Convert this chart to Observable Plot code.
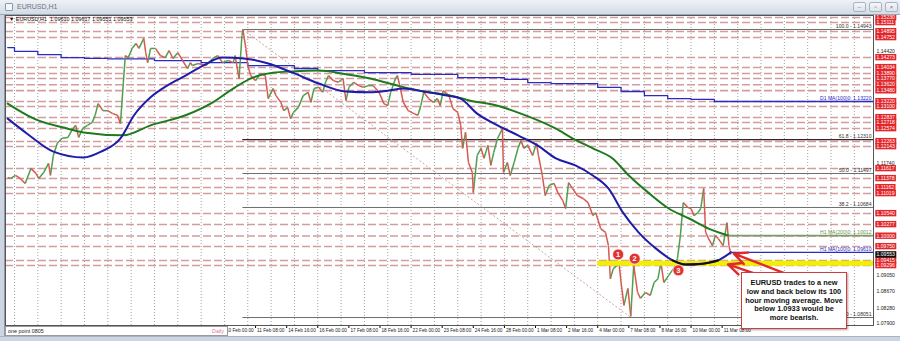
<!DOCTYPE html>
<html><head><meta charset="utf-8">
<script src="https://cdn.jsdelivr.net/npm/d3@7"></script>
<script src="https://cdn.jsdelivr.net/npm/@observablehq/plot@0.6"></script>
<style>
html,body{margin:0;padding:0;background:#d3dbe6;}
#wrap{position:relative;width:900px;height:341px;overflow:hidden;font-family:"Liberation Sans",Arial,sans-serif;}
#wrap svg{position:absolute;left:0;top:0;}
.ov{position:absolute;z-index:5;box-sizing:border-box;}
#titlebar{left:0;top:0;width:900px;height:15px;background:linear-gradient(#eef2f7,#d3dbe6);border-bottom:1px solid #9aa8ba;}
#titlebar .t{position:absolute;left:17px;top:3px;font-size:7px;color:#6a7482;}
#titlebar .ic{position:absolute;left:5px;top:3px;width:8px;height:8px;border:1px solid #8a98ac;border-radius:1px;background:#f4f6f9;box-sizing:border-box;}
.btn{position:absolute;top:2px;width:13px;height:10px;border:1px solid #a9b4c3;border-radius:2px;background:linear-gradient(#f4f6f9,#dde3eb);box-sizing:border-box;font-size:6px;color:#6d7786;text-align:center;line-height:8px;}
#lb{left:0;top:15px;width:5px;height:326px;background:#ccd5e1;border-right:1px solid #8d9aab;}
#bb{left:0;top:336px;width:900px;height:5px;background:#ccd5e1;border-top:1px solid #a9b4c3;}
#hdr{left:9px;top:16px;font-size:5.4px;color:#111;white-space:pre;}
#pt{left:5px;top:326px;width:223px;height:10px;background:#fff;border:1px solid #9a9a9a;font-size:5.4px;line-height:8px;color:#222;}
#pt .a{position:absolute;left:2px;top:0;}
#pt .b{position:absolute;right:3px;top:0;color:#e07a9a;}
#note{left:741px;top:272px;width:106px;height:57px;background:#fff;border:1.5px solid #d23c3c;box-shadow:1px 1px 2px rgba(0,0,0,.35);font-weight:bold;font-size:7.4px;line-height:8.8px;text-align:center;padding-top:6px;color:#111;}
</style></head>
<body>
<div id="wrap">
  <div class="ov" id="titlebar"><div class="ic"></div><div class="t">EURUSD,H1</div>
    <div class="btn" style="left:853px">–</div><div class="btn" style="left:869px">▫</div><div class="btn" style="left:885px">×</div></div>
  <div class="ov" id="lb"></div>
  <div class="ov" id="bb"></div>
  <div class="ov" id="hdr">▼ EURUSD,H1  1.09610 1.09617 1.09551 1.09553</div>
  <div class="ov" id="pt"><span class="a">one point 0805</span><span class="b">Daily</span></div>
  <div class="ov" id="note">EURUSD trades to a new<br>low and back below its 100<br>hour moving average. Move<br>below 1.0933 would be<br>more bearish.</div>
</div>
<script>
// ---- time axis (bar index = hours since 28 Jan 00:00, trading hours only) ----
const timeTickBars = [216,248,280,312,344,376,408,440,472,504,536,568,600,632,664,696,728];
const timeTickLabels = ["10 Feb 00:00","11 Feb 08:00","14 Feb 16:00","16 Feb 00:00","17 Feb 08:00","18 Feb 16:00","22 Feb 00:00","23 Feb 08:00","24 Feb 16:00","28 Feb 00:00","1 Mar 08:00","2 Mar 16:00","4 Mar 00:00","7 Mar 08:00","8 Mar 16:00","10 Mar 00:00","11 Mar 08:00"];

// ---- EURUSD H1 price path ----
const priceBar = [
 -7,-4,1,6,11,17,22,25,30,35,
 37,40,44,49,55,60,63,66,70,75,
 80,83,86,91,96,101,106,109,112,114,
 117,121,125,128,133,135,137,140,145,150,
 155,159,163,168,173,178,181,183,189,197,
 204,209,214,220,225,227,231,234,235,238,
 240,243,248,253,258,261,266,269,274,277,
 281,284,287,292,297,302,305,308,313,317,
 320,323,328,333,338,341,344,349,354,359,
 364,369,375,380,384,387,392,394,397,400,
 405,411,415,418,421,426,431,435,438,441,
 447,451,456,459,461,464,467,471,472,476,
 480,483,487,490,493,497,502,503,507,510,
 514,518,521,524,528,533,537,539,543,546,
 550,555,559,564,567,570,574,579,585,590,
 595,598,603,608,611,613,616,622,624,627,
 631,634,637,641,644,649,654,658,662,665,
 668,673,678,682,685,688,693,696,699,703,
 706,709,711,714,718,721,724,729,733,735,737];
const priceVal = [
 1.1140,1.1138,1.1145,1.1138,1.1126,1.1162,1.1150,1.1138,1.1152,1.1174,
 1.1145,1.1193,1.1222,1.1234,1.1236,1.1257,1.1265,1.1236,1.1257,1.1265,
 1.1272,1.1289,1.1317,1.1300,1.1300,1.1293,1.1289,1.1269,1.1368,1.1432,
 1.1427,1.1449,1.1461,1.1449,1.1473,1.1439,1.1415,1.1449,1.1449,1.1432,
 1.1427,1.1444,1.1425,1.1439,1.1420,1.1401,1.1415,1.1408,1.1413,1.1408,
 1.1425,1.1432,1.1415,1.1420,1.1415,1.1432,1.1377,1.1480,1.1494,1.1449,
 1.1408,1.1384,1.1372,1.1389,1.1384,1.1329,1.1353,1.1336,1.1320,1.1300,
 1.1308,1.1281,1.1296,1.1308,1.1336,1.1344,1.1320,1.1353,1.1356,1.1344,
 1.1368,1.1384,1.1372,1.1368,1.1377,1.1324,1.1356,1.1368,1.1360,1.1356,
 1.1360,1.1360,1.1344,1.1317,1.1312,1.1344,1.1377,1.1384,1.1353,1.1320,
 1.1300,1.1293,1.1289,1.1312,1.1344,1.1329,1.1320,1.1329,1.1312,1.1348,
 1.1336,1.1305,1.1296,1.1265,1.1210,1.1248,1.1176,1.1152,1.1104,1.1193,
 1.1210,1.1186,1.1217,1.1169,1.1200,1.1234,1.1257,1.1152,1.1176,1.1145,
 1.1176,1.1210,1.1229,1.1210,1.1217,1.1193,1.1222,1.1193,1.1145,1.1097,
 1.1121,1.1126,1.1104,1.1085,1.1066,1.1128,1.1114,1.1097,1.1090,1.1080,
 1.1049,1.1056,1.1018,1.1009,1.0977,1.0898,1.0922,1.0934,1.0889,1.0834,
 1.0875,1.0808,1.0930,1.0865,1.0851,1.0865,1.0858,1.0889,1.0898,1.0937,
 1.0889,1.0906,1.0922,1.0946,1.1001,1.1080,1.1068,1.1066,1.1049,1.1056,
 1.1066,1.1114,1.1009,1.0994,1.0977,1.1001,1.0994,1.0977,1.1032,1.0977,1.0956];

// ---- H1 MA(100) ----
const ma100Bar = [-7,13,40,71,89,109,123,140,157,176,194,214,236,261,286,313,341,366,384,400,421,446,459,476,497,518,538,557,577,595,611,626,642,660,677,690,708,724,737];
const ma100Val = [1.1281,1.1245,1.1202,1.1188,1.1202,1.1234,1.1289,1.1332,1.1360,1.1384,1.1408,1.1427,1.1425,1.1413,1.1391,1.1365,1.1346,1.1344,1.1348,1.1353,1.1346,1.1336,1.1329,1.1293,1.1265,1.1241,1.1217,1.1186,1.1169,1.1145,1.1114,1.1056,1.1009,1.0970,1.0942,1.0932,1.0934,1.0942,1.0961];
// ---- H1 MA(200) ----
const ma200Bar = [-7,20,55,71,112,140,176,204,227,245,266,286,313,341,366,394,421,449,469,497,521,557,574,595,615,632,652,673,694,714,735];
const ma200Val = [1.1317,1.1281,1.1257,1.1248,1.1241,1.1265,1.1289,1.1320,1.1356,1.1379,1.1391,1.1394,1.1396,1.1387,1.1377,1.1360,1.1346,1.1336,1.1324,1.1312,1.1293,1.1257,1.1234,1.1210,1.1186,1.1145,1.1104,1.1066,1.1042,1.1018,1.1001];
// ---- D1 MA(100), one value per trading day (day -1 .. 30) ----
const dailyMA = [1.1451,1.1442,1.1434,1.1427,1.1425,1.1424,1.1424,1.1420,1.1420,1.1415,1.1415,1.1408,1.1408,1.1401,1.1396,1.1396,1.1391,1.1391,1.1387,1.1387,1.1379,1.1379,1.1375,1.1367,1.1365,1.1365,1.1356,1.1346,1.1336,1.1329,1.1327,1.1322];

// ---- Fibonacci retracement (10 Feb high -> 7 Mar low) ----
const fibPct = ["100.0","61.8","50.0","38.2","0.0"];
const fibPrice = [1.14943,1.12310,1.11497,1.10684,1.08051];
const fibBars = [235,634];

// ---- horizontal levels drawn by the analyst ----
const levels = [1.15230,1.15111,1.14895,1.14752,1.14273,1.14034,1.13890,1.13770,1.13620,1.13480,1.13220,1.13100,1.12837,1.12718,1.12574,1.12263,1.12143,1.11617,1.11378,1.11162,1.11019,1.10540,1.10277,1.10000,1.09750,1.09415,1.09296];
const gridPrices = [1.07900,1.08280,1.08670,1.09050,1.09430,1.09820,1.10200,1.10580,1.10970,1.11350,1.11740,1.12120,1.12500,1.12890,1.13270,1.13650,1.14040,1.14420,1.14800,1.15190];
const currentPrice = [1.09553];
const yellowLevel = [1.0935];
const yellowStartBar = 600;

// ---- annotations ----
const circleNums = ["1","2","3"];
const circleBars = [621,638,683];
const circlePrices = [1.0956,1.0946,1.0918];
const arrowHeadBars = [740,734], arrowHeadPrices = [1.0958,1.0932];
const arrowTailBars = [801,793], arrowTailPrices = [1.0903,1.0885];
const maLabels = ["D1 MA(100)0: 1.13220","H1 MA(200)0: 1.10012","H1 MA(100)0: 1.09610"];
const maLabelPrices = [1.1322,1.1001,1.0961];
const maLabelColors = ["#2b2bc4","#6b8e4e","#2b2bc4"];

// ---- derived tables ----
const xStart = -9.26, xEnd = 883.7;
const segs = priceBar.slice(1).map((b, i) => ({x1: priceBar[i], y1: priceVal[i], x2: b, y2: priceVal[i + 1]}));
const up = segs.filter(d => d.y2 >= d.y1), down = segs.filter(d => d.y2 < d.y1);
const ma100 = ma100Bar.map((b, i) => ({b, v: ma100Val[i]}));
const ma200 = ma200Bar.map((b, i) => ({b, v: ma200Val[i]}));
const daily = dailyMA.map((v, i) => ({b: Math.max(-7, (i - 1) * 24), v}));
daily.push({b: xEnd, v: dailyMA[dailyMA.length - 1]});
const circles = circleNums.map((n, i) => ({n, b: circleBars[i], p: circlePrices[i]}));
const arrows = arrowHeadBars.map((b, i) => ({hb: b, hp: arrowHeadPrices[i], tb: arrowTailBars[i], tp: arrowTailPrices[i]}));
const dayBars = d3.range(0, xEnd, 24);
const boxed = levels.concat(currentPrice);
const freeGrid = gridPrices.filter(g => boxed.every(l => Math.abs(l - g) > 0.0011));
const f5 = d => d.toFixed(5);
const small = 5.1;
const RED_TXT = "#fffffe", BLK_TXT = "#fffffd";

const chart = Plot.plot({
  width: 900, height: 341,
  marginLeft: 5, marginRight: 27, marginTop: 15, marginBottom: 16,
  style: {background: "white", fontFamily: "Liberation Sans, Arial, sans-serif", overflow: "visible"},
  x: {domain: [xStart, xEnd], ticks: timeTickBars, tickFormat: () => "", tickSize: 3, label: null},
  y: {domain: [1.07860, 1.15278], axis: null},
  marks: [
    Plot.ruleX(dayBars, {stroke: "#8a8a8a", strokeDasharray: "1,2", strokeWidth: 0.8}),
    Plot.ruleY(levels, {stroke: "#d19d9d", strokeWidth: 1.6, strokeDasharray: "8,3"}),
    Plot.ruleY(fibPrice, {x1: fibBars[0], x2: xEnd, stroke: "#6e6e6e", strokeWidth: 1}),
    Plot.ruleY([fibPrice[1]], {x1: fibBars[0], x2: xEnd, stroke: "#3a2525", strokeWidth: 1.2}),
    Plot.link([0], {x1: fibBars[0], y1: fibPrice[0], x2: fibBars[1], y2: fibPrice[4], stroke: "#c9a3a3", strokeDasharray: "2,2", strokeWidth: 1}),
    Plot.line(daily, {x: "b", y: "v", curve: "step-after", stroke: "#2b2bc4", strokeWidth: 1.3}),
    Plot.link(up, {x1: "x1", y1: "y1", x2: "x2", y2: "y2", stroke: "#4f9f4f", strokeWidth: 1.5}),
    Plot.link(down, {x1: "x1", y1: "y1", x2: "x2", y2: "y2", stroke: "#d65a52", strokeWidth: 1.5}),
    Plot.ruleY(yellowLevel, {x1: yellowStartBar, x2: xEnd, stroke: "#f3ef00", strokeWidth: 5}),
    Plot.line(ma200, {x: "b", y: "v", curve: "monotone-x", stroke: "#1e7a1e", strokeWidth: 2}),
    Plot.ruleY([ma200Val[ma200Val.length - 1]], {x1: ma200Bar[ma200Bar.length - 1], x2: xEnd, stroke: "#7f9c6a", strokeWidth: 1.6}),
    Plot.line(ma100, {x: "b", y: "v", curve: "monotone-x", stroke: "#1d1daa", strokeWidth: 2}),
    Plot.line(ma100.filter(d => d.b >= 677 && d.b <= 724), {x: "b", y: "v", curve: "monotone-x", stroke: "#111", strokeWidth: 2}),
    Plot.ruleY([ma100Val[ma100Val.length - 1]], {x1: ma100Bar[ma100Bar.length - 1], x2: xEnd, stroke: "#2b2bc4", strokeWidth: 1.3}),
    Plot.text(fibPrice, {y: d => d, text: (d, i) => `${fibPct[i]} - ${f5(d)}`, frameAnchor: "right", textAnchor: "end", dx: -2, dy: -3, fontSize: small, fill: "#333"}),
    Plot.text(maLabelPrices, {y: d => d, text: (d, i) => maLabels[i], fill: (d, i) => maLabelColors[i], frameAnchor: "right", textAnchor: "end", dx: -2, dy: -3, fontSize: small}),
    Plot.arrow(arrows, {x1: "tb", y1: "tp", x2: "hb", y2: "hp", stroke: "#e02a2a", strokeWidth: 2.4, headLength: 9, headAngle: 50}),
    Plot.dot(circles, {x: "b", y: "p", r: 5.5, fill: "#e2332e", stroke: "#fff", strokeWidth: 0.7}),
    Plot.text(circles, {x: "b", y: "p", text: "n", fill: "white", fontSize: 7.5, fontWeight: "bold"}),
    Plot.text(timeTickBars, {x: d => d, text: (d, i) => timeTickLabels[i], frameAnchor: "bottom", textAnchor: "start", dx: 1.5, dy: 6, fontSize: 4.7, fill: "#222"}),
    Plot.text(freeGrid, {y: d => d, text: f5, frameAnchor: "right", textAnchor: "start", dx: 3, fontSize: small, fill: "#222"}),
    Plot.text(levels, {y: d => d, text: f5, frameAnchor: "right", textAnchor: "start", dx: 3, fontSize: small, fill: RED_TXT}),
    Plot.text(currentPrice, {y: d => d, text: f5, frameAnchor: "right", textAnchor: "start", dx: 3, fontSize: small, fill: BLK_TXT}),
    Plot.frame({stroke: "#555"})
  ]
});
document.getElementById("wrap").prepend(chart);
for (const [code, col] of [[RED_TXT, "#e2262b"], [BLK_TXT, "#111"]]) {
  chart.querySelectorAll("text").forEach(t => {
    const f = (t.getAttribute("fill") || (t.parentNode && t.parentNode.getAttribute && t.parentNode.getAttribute("fill")) || "").toLowerCase();
    if (f !== code) return;
    const b = t.getBBox();
    const r = document.createElementNS("http://www.w3.org/2000/svg", "rect");
    r.setAttribute("x", b.x - 1.2); r.setAttribute("y", b.y - 0.2);
    r.setAttribute("width", b.width + 2.4); r.setAttribute("height", b.height + 0.4);
    r.setAttribute("fill", col);
    const tr = t.getAttribute("transform"); if (tr) r.setAttribute("transform", tr);
    t.parentNode.insertBefore(r, t);
  });
}
</script>
</body></html>
